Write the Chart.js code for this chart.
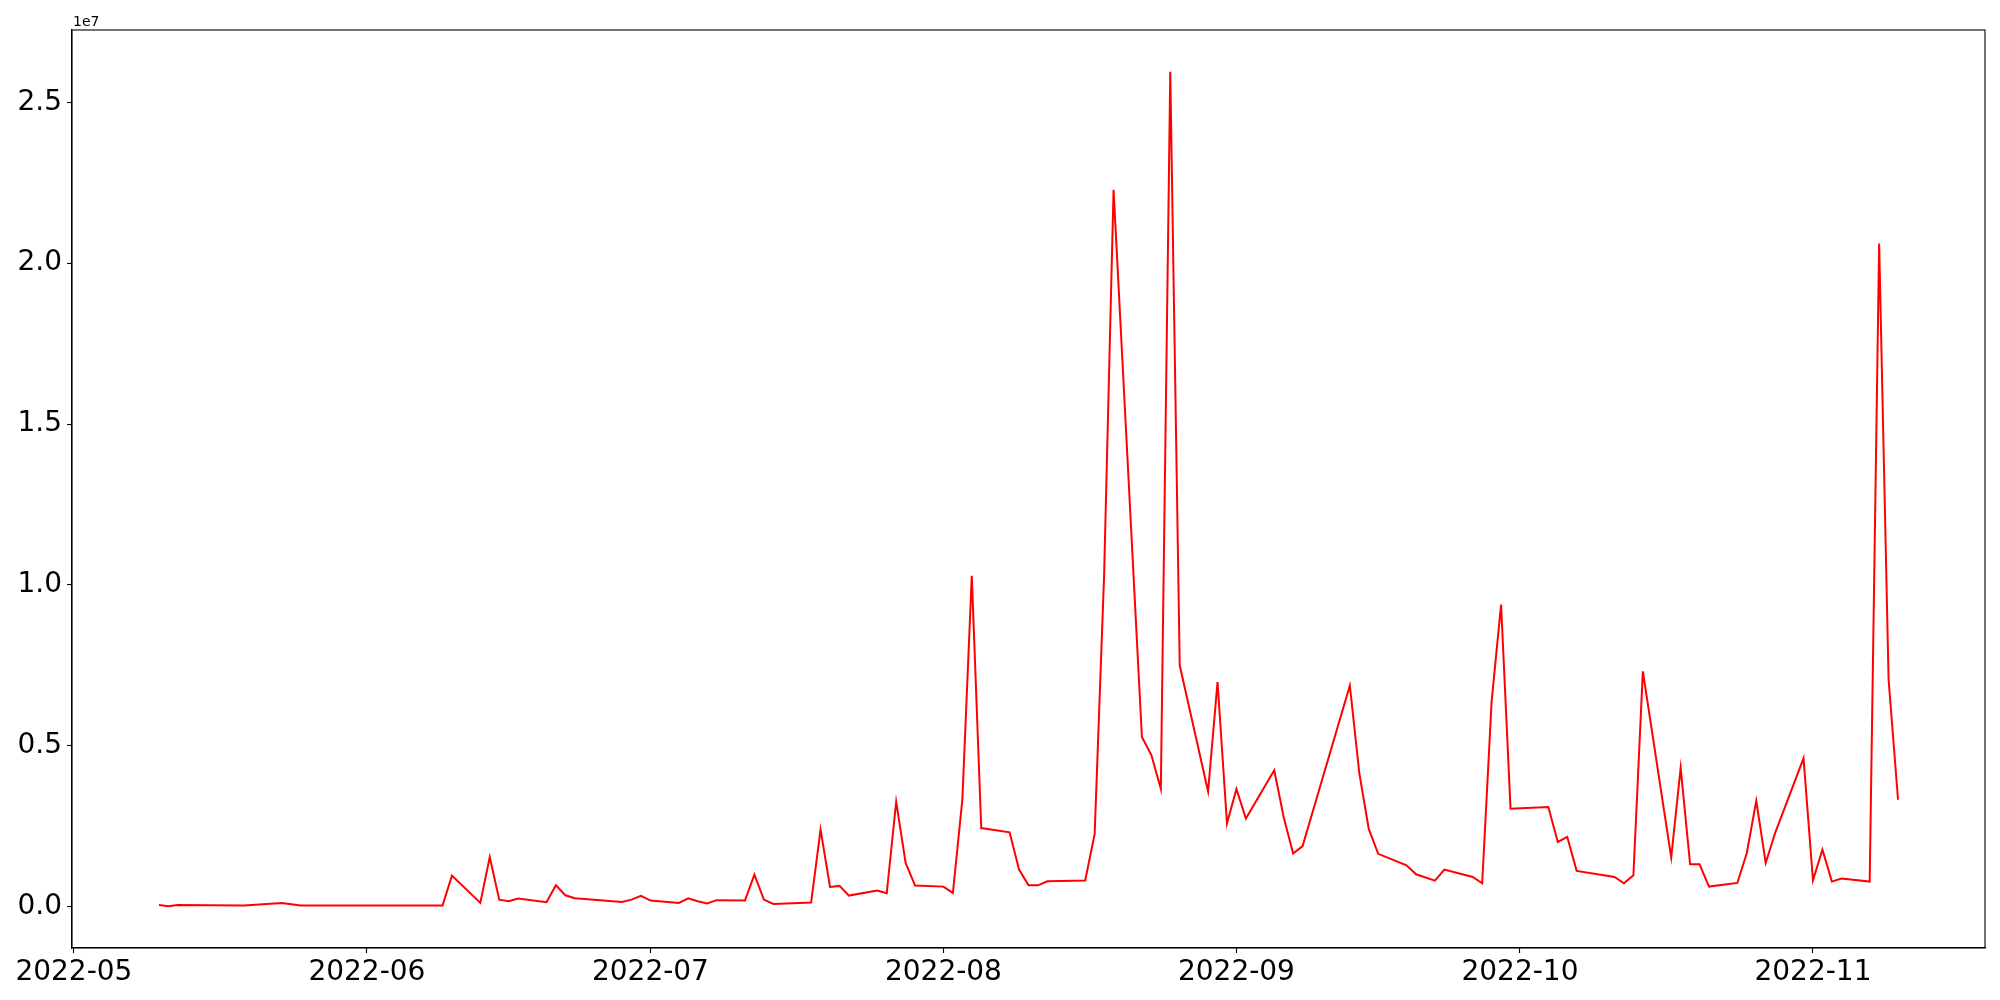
<!DOCTYPE html>
<html>
<head>
<meta charset="utf-8">
<script src="https://cdn.jsdelivr.net/npm/chart.js@4.4.0/dist/chart.umd.min.js"></script>
<style>
html,body{margin:0;padding:0;background:#fff;}
#wrap{width:2000px;height:1000px;}
</style>
</head>
<body>
<div id="wrap"><canvas id="chart" width="2000" height="1000"></canvas></div>
<script>
// Values
const dates = [
  '2022-05-10','2022-05-11','2022-05-12','2022-05-19','2022-05-23','2022-05-25',
  '2022-06-09','2022-06-10','2022-06-13','2022-06-14','2022-06-15','2022-06-16','2022-06-17',
  '2022-06-20','2022-06-21','2022-06-22','2022-06-23','2022-06-28','2022-06-29','2022-06-30',
  '2022-07-01','2022-07-04','2022-07-05','2022-07-06','2022-07-07','2022-07-08','2022-07-11',
  '2022-07-12','2022-07-13','2022-07-14','2022-07-18','2022-07-19','2022-07-20','2022-07-21',
  '2022-07-22','2022-07-25','2022-07-26','2022-07-27','2022-07-28','2022-07-29',
  '2022-08-01','2022-08-02','2022-08-03','2022-08-04','2022-08-05','2022-08-08','2022-08-09',
  '2022-08-10','2022-08-11','2022-08-12','2022-08-16','2022-08-17','2022-08-18','2022-08-19',
  '2022-08-22','2022-08-23','2022-08-24','2022-08-25','2022-08-26','2022-08-29','2022-08-30',
  '2022-08-31','2022-09-01','2022-09-02','2022-09-05','2022-09-06','2022-09-07','2022-09-08',
  '2022-09-13','2022-09-14','2022-09-15','2022-09-16','2022-09-19','2022-09-20','2022-09-22',
  '2022-09-23','2022-09-26','2022-09-27','2022-09-28','2022-09-29','2022-09-30',
  '2022-10-04','2022-10-05','2022-10-06','2022-10-07','2022-10-11','2022-10-12','2022-10-13',
  '2022-10-14','2022-10-17','2022-10-18','2022-10-19','2022-10-20','2022-10-21','2022-10-24',
  '2022-10-25','2022-10-26','2022-10-27','2022-10-28','2022-10-31',
  '2022-11-01','2022-11-02','2022-11-03','2022-11-04','2022-11-07','2022-11-08','2022-11-09',
  '2022-11-10'
];
const values = [
  53000, 10000, 53000, 31000, 115000, 31000,
  35000, 963000, 115000, 1540000, 217000, 165000, 249000,
  134000, 662000, 351000, 258000, 146000, 217000, 332000,
  186000, 115000, 258000, 165000, 98000, 200000, 186000,
  994000, 217000, 84000, 124000, 2390000, 612000, 643000,
  342000, 497000, 413000, 3260000, 1357000, 652000,
  621000, 425000, 3320000, 10280000, 2440000, 2310000, 1150000,
  662000, 662000, 786000, 810000, 2260000, 10300000, 22280000,
  5270000, 4710000, 3660000, 25950000, 7500000, 3580000, 6980000,
  2580000, 3655000, 2740000, 4240000, 2780000, 1650000, 1880000,
  6870000, 4150000, 2414000, 1640000, 1284000, 1004000, 808000,
  1150000, 922000, 725000, 6380000, 9390000, 3044000,
  3097000, 2010000, 2165000, 1110000, 922000, 725000, 973000,
  7310000, 1530000, 4310000, 1315000, 1315000, 621000, 735000,
  1668000, 3290000, 1357000, 2290000, 4607000,
  817000, 1770000, 777000, 870000, 777000, 20610000, 7050000,
  3320000
];
const xTickLabels = ['2022-05','2022-06','2022-07','2022-08','2022-09','2022-10','2022-11'];
const yTickValues = [0, 5000000, 10000000, 15000000, 20000000, 25000000];
const offsetLabel = '1e7';

const DAY = 86400000;
const origin = Date.UTC(2022, 4, 1);
function toDay(s){
  const p = s.split('-').map(Number);
  return (Date.UTC(p[0], p[1]-1, p[2] || 1) - origin) / DAY;
}

const points = dates.map((d,i)=>({x: toDay(d), y: values[i]}));
const xTicks = xTickLabels.map(toDay);

// matplotlib style 5% margins
const xs = points.map(p=>p.x), ys = values;
const xMin = Math.min(...xs), xMax = Math.max(...xs);
const yMin = Math.min(...ys), yMax = Math.max(...ys);
const xPad = (xMax-xMin)*0.05, yPad = (yMax-yMin)*0.05;

const FONT = '"DejaVu Sans", sans-serif';

const framePlugin = {
  id: 'frame',
  afterDraw(chart){
    const {ctx, chartArea:a} = chart;
    ctx.save();
    ctx.strokeStyle = '#000';
    ctx.lineWidth = 1.1;
    ctx.strokeRect(a.left, a.top, a.right-a.left, a.bottom-a.top);
    ctx.fillStyle = '#000';
    ctx.font = '14px ' + FONT;
    ctx.textAlign = 'left';
    ctx.textBaseline = 'alphabetic';
    ctx.fillText(offsetLabel, a.left + 1, a.top - 4);
    ctx.restore();
  }
};

const axisGrid = {drawOnChartArea:false, drawTicks:true, tickLength:5, tickWidth:1.1, tickColor:'#000', color:'#000'};
const axisBorder = {display:true, color:'#000', width:1.1};

new Chart(document.getElementById('chart').getContext('2d'), {
  type: 'line',
  data: { datasets: [{
    data: points,
    borderColor: '#ff0000',
    borderWidth: 2,
    pointRadius: 0,
    tension: 0,
    fill: false
  }]},
  options: {
    responsive: false,
    animation: false,
    devicePixelRatio: 1,
    layout: { padding: {left:0, top:30, right:15, bottom:0} },
    plugins: { legend:{display:false}, tooltip:{enabled:false} },
    scales: {
      x: {
        type: 'linear',
        min: xMin - xPad,
        max: xMax + xPad,
        grid: axisGrid,
        border: axisBorder,
        afterBuildTicks: s => { s.ticks = xTicks.map(v=>({value:v})); },
        afterFit: s => { s.height = 52; },
        ticks: {
          autoSkip: false, maxRotation: 0, padding: 3,
          color: '#000', font: {family: FONT, size: 28},
          callback: (v) => { const i = xTicks.indexOf(v); return i >= 0 ? xTickLabels[i] : ''; }
        }
      },
      y: {
        type: 'linear',
        min: yMin - yPad,
        max: yMax + yPad,
        grid: axisGrid,
        border: axisBorder,
        afterBuildTicks: s => { s.ticks = yTickValues.map(v=>({value:v})); },
        afterFit: s => { s.width = 72; },
        ticks: {
          padding: 5, color: '#000', font: {family: FONT, size: 28},
          callback: v => (v/1e7).toFixed(1)
        }
      }
    }
  },
  plugins: [framePlugin]
});
</script>
</body>
</html>
